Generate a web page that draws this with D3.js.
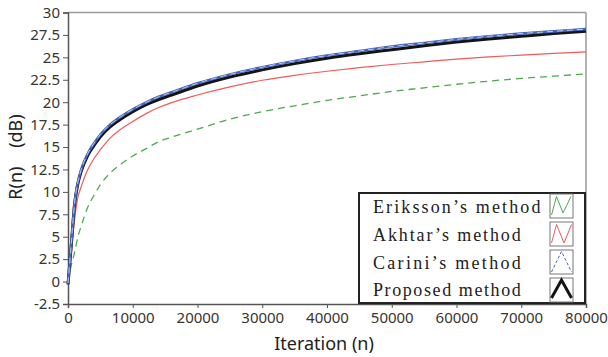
<!DOCTYPE html>
<html>
<head>
<meta charset="utf-8">
<script src="https://cdn.jsdelivr.net/npm/d3@7/dist/d3.min.js"></script>
<style>
  html, body { margin: 0; padding: 0; background: #fff; }
  svg { display: block; }
  .tick text { font-family: "Noto Sans", sans-serif; font-size: 15px; fill: #3a3530; }
</style>
</head>
<body>
<svg id="chart" width="608" height="357"></svg>
<script>
// Iteration counts at which each curve is sampled
const iterations = [0, 250, 500, 1000, 1500, 2000, 3000, 4000, 5000, 6500, 8000, 10000, 12000, 14000, 16000,
  20000, 25000, 30000, 35000, 40000, 45000, 50000, 55000, 60000, 65000, 70000, 75000, 80000];

// R(n) in dB for each method
const eriksson = [0.0, 1.0, 1.8, 3.2, 4.9, 6.1, 8.2, 9.6, 10.8, 12.1, 13.0, 14.0, 14.8, 15.6, 16.1,
  17.0, 18.1, 18.95, 19.6, 20.2, 20.7, 21.2, 21.6, 22.0, 22.35, 22.65, 22.9, 23.15];
const akhtar = [-0.3, 1.2, 3.2, 6.8, 9.3, 10.5, 12.4, 13.7, 14.7, 16.0, 16.9, 17.85, 18.7, 19.4, 19.95,
  20.8, 21.7, 22.45, 23.0, 23.45, 23.85, 24.2, 24.5, 24.8, 25.05, 25.25, 25.45, 25.6];
const carini = [-0.2, 2.0, 4.2, 8.7, 11.0, 12.4, 14.2, 15.4, 16.4, 17.5, 18.3, 19.2, 19.95, 20.6, 21.1,
  22.1, 23.1, 23.9, 24.6, 25.2, 25.7, 26.2, 26.6, 27.0, 27.35, 27.65, 27.9, 28.15];
const proposed = [-0.3, 1.8, 4.0, 8.5, 10.8, 12.2, 14.0, 15.15, 16.15, 17.25, 18.05, 18.95, 19.7, 20.3, 20.8,
  21.8, 22.8, 23.6, 24.3, 24.9, 25.4, 25.85, 26.3, 26.7, 27.05, 27.35, 27.65, 27.9];

// Axis ticks
const xTicks = [0, 10000, 20000, 30000, 40000, 50000, 60000, 70000, 80000];
const xTickLabels = ["0", "10000", "20000", "30000", "40000", "50000", "60000", "70000", "80000"];
const yTicks = [-2.5, 0, 2.5, 5, 7.5, 10, 12.5, 15, 17.5, 20, 22.5, 25, 27.5, 30];
const yTickLabels = ["-2.5", "0", "2.5", "5", "7.5", "10", "12.5", "15", "17.5", "20", "22.5", "25", "27.5", "30"];

// Legend entries
const legendNames = ["Eriksson\u2019s method", "Akhtar\u2019s method", "Carini\u2019s method", "Proposed method"];

const svg = d3.select("#chart");
const L = 68, R = 586, T = 12.5, B = 304;

const x = d3.scaleLinear().domain([0, 80000]).range([L, R]);
const y = d3.scaleLinear().domain([-2.5, 30]).range([B, T]);

// Frame: light top/right border
svg.append("line").attr("x1", L).attr("x2", R).attr("y1", T).attr("y2", T)
  .attr("stroke", "#9a9a9a").attr("stroke-width", 1.5);
svg.append("line").attr("x1", R).attr("x2", R).attr("y1", T).attr("y2", B)
  .attr("stroke", "#9a9a9a").attr("stroke-width", 1.5);

// Axes
const yAxis = svg.append("g").attr("transform", `translate(${L},0)`)
  .call(d3.axisLeft(y).tickValues(yTicks).tickSize(5).tickPadding(3)
    .tickFormat((d, i) => yTickLabels[i]));
const xAxis = svg.append("g").attr("transform", `translate(0,${B})`)
  .call(d3.axisBottom(x).tickValues(xTicks).tickSize(4).tickPadding(4)
    .tickFormat((d, i) => xTickLabels[i]));
[yAxis, xAxis].forEach(g => {
  g.select(".domain").attr("stroke", "#555").attr("stroke-width", 1.5);
  g.selectAll(".tick line").attr("stroke", "#555");
});

// Curves
const line = d3.line().x((d, i) => x(iterations[i])).y(d => y(d)).curve(d3.curveMonotoneX);
const plot = svg.append("g");

plot.append("path").datum(eriksson).attr("d", line)
  .attr("fill", "none").attr("stroke", "#4ea84e").attr("stroke-width", 1.3)
  .attr("stroke-dasharray", "7,5");
plot.append("path").datum(akhtar).attr("d", line)
  .attr("fill", "none").attr("stroke", "#f05a5a").attr("stroke-width", 1.2);
plot.append("path").datum(proposed).attr("d", line)
  .attr("fill", "none").attr("stroke", "#141414").attr("stroke-width", 3);
plot.append("path").datum(carini).attr("d", line)
  .attr("fill", "none").attr("stroke", "#4563b8").attr("stroke-width", 2.6);
plot.append("path").datum(carini).attr("d", line)
  .attr("fill", "none").attr("stroke", "#c9d4f2").attr("stroke-width", 0.9)
  .attr("stroke-dasharray", "6,4");

// Axis titles
svg.append("text").attr("x", 324).attr("y", 350).attr("text-anchor", "middle")
  .style("font-family", "'Noto Sans', sans-serif").style("font-size", "18px").style("fill", "#222")
  .text("Iteration (n)");
svg.append("text").attr("transform", "translate(22,157) rotate(-90)").attr("text-anchor", "middle")
  .style("font-family", "'Noto Sans', sans-serif").style("font-size", "18px").style("fill", "#222")
  .style("white-space", "pre")
  .text("R(n)    (dB)");

// Legend
const leg = svg.append("g");
leg.append("rect").attr("x", 359).attr("y", 193).attr("width", 226).attr("height", 110)
  .attr("fill", "#fff").attr("stroke", "#222").attr("stroke-width", 2);

const swatchStyles = [
  { color: "#4ea84e", width: 1, dash: null, pts: [[1.5, 21], [6.5, 2.5], [13, 19], [21, 2.5]] },
  { color: "#f05a5a", width: 1, dash: null, pts: [[1.5, 21], [6.5, 2.5], [14, 21], [21.5, 2.5]] },
  { color: "#4563b8", width: 1, dash: "3,2", pts: [[1.5, 22], [11.5, 1.5], [21.5, 22]] },
  { color: "#141414", width: 3, dash: null, pts: [[1.5, 20], [11.5, 2], [21.5, 20]] }
];
const rowTop = [194, 222, 250, 278];
const rowBase = [213, 241, 268.5, 296];

legendNames.forEach((name, i) => {
  const t = leg.append("text").attr("x", 373).attr("y", rowBase[i])
    .style("font-family", "'Liberation Serif', serif").style("font-size", "18px").style("fill", "#222")
    .attr("textLength", name.length * 9.85).attr("lengthAdjust", "spacing")
    .text(name);
  const sw = leg.append("g").attr("transform", `translate(550,${rowTop[i]})`);
  sw.append("rect").attr("x", 0).attr("y", 0).attr("width", 23).attr("height", 24)
    .attr("fill", "#fff").attr("stroke", "#777").attr("stroke-width", 1);
  const s = swatchStyles[i];
  sw.append("path").attr("d", d3.line()(s.pts))
    .attr("fill", "none").attr("stroke", s.color).attr("stroke-width", s.width)
    .attr("stroke-dasharray", s.dash);
});
</script>
</body>
</html>
